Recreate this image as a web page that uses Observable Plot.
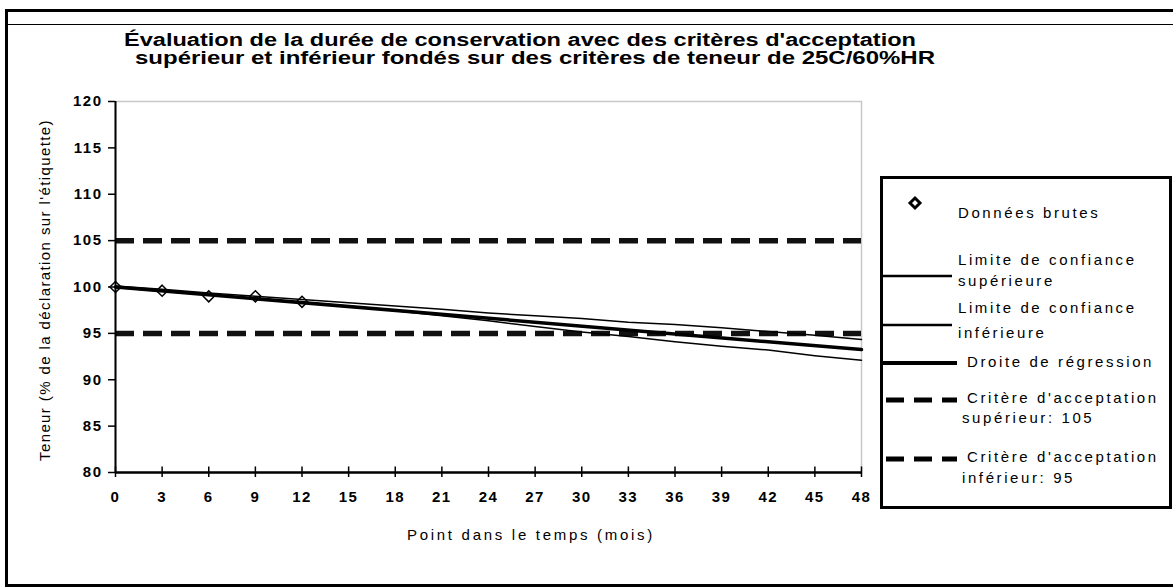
<!DOCTYPE html>
<html>
<head>
<meta charset="utf-8">
<script src="https://cdn.jsdelivr.net/npm/d3@7"></script>
<script src="https://cdn.jsdelivr.net/npm/@observablehq/plot@0.6"></script>
<style>
  body { margin: 0; background: #fff; }
  #wrap { position: relative; width: 1173px; height: 588px; overflow: hidden; background: #fff; font-family: "Liberation Sans", Arial, sans-serif; color: #000; }
  .abs { position: absolute; white-space: nowrap; }
</style>
</head>
<body>
<div id="wrap"></div>
<script>
// ---------- data ----------
const titleLines = [
  "Évaluation de la durée de conservation avec des critères d'acceptation",
  "supérieur et inférieur fondés sur des critères de teneur de 25C/60%HR"
];
const xLabel = "Point dans le temps (mois)";
const yLabel = "Teneur (% de la déclaration sur l'étiquette)";

const rawMonths = [0, 3, 6, 9, 12];
const rawValues = [100.0, 99.6, 99.0, 99.0, 98.4];

const bandMonths = [0, 3, 6, 9, 12, 15, 18, 21, 24, 27, 30, 33, 36, 39, 42, 45, 48];
const upperValues = [100.1, 99.75, 99.35, 99.0, 98.65, 98.3, 97.95, 97.6, 97.2, 96.9, 96.6, 96.2, 95.95, 95.6, 95.2, 94.8, 94.35];
const lowerValues = [99.95, 99.55, 99.15, 98.75, 98.35, 97.95, 97.45, 96.9, 96.35, 95.75, 95.15, 94.65, 94.1, 93.6, 93.2, 92.6, 92.1];

const regMonths = [0, 48];
const regValues = [100.0, 93.25];

const upperCriterion = 105;
const lowerCriterion = 95;

const xTicks = [0, 3, 6, 9, 12, 15, 18, 21, 24, 27, 30, 33, 36, 39, 42, 45, 48];
const yTicks = [80, 85, 90, 95, 100, 105, 110, 115, 120];

const legendLabels = [
  ["Données brutes"],
  ["Limite de confiance", "supérieure"],
  ["Limite de confiance", "inférieure"],
  ["Droite de régression"],
  ["Critère d'acceptation", "supérieur: 105"],
  ["Critère d'acceptation", "inférieur: 95"]
];

// ---------- build ----------
const wrap = document.getElementById("wrap");
function el(tag, css, text) {
  const e = document.createElement(tag);
  e.className = "abs";
  Object.assign(e.style, css);
  if (text != null) e.textContent = text;
  wrap.appendChild(e);
  return e;
}
function fitText(e, target) {
  e.style.letterSpacing = "0px";
  const w = e.getBoundingClientRect().width;
  const n = e.textContent.length;
  e.style.letterSpacing = ((target - w) / n) + "px";
}
function squeeze(e, target) {
  const w = e.getBoundingClientRect().width;
  e.style.transformOrigin = "0 50%";
  e.style.transform = "scaleX(" + (target / w) + ")";
}

// outer frame
el("div", {left: "5px", top: "9px", width: "1300px", height: "578px", border: "3px solid #000", borderRight: "none", boxSizing: "border-box"});
el("div", {left: "8px", top: "24px", width: "1300px", height: "1px", background: "#000"});

const pts = rawMonths.map((m, i) => ({m, v: rawValues[i]}));
const up = bandMonths.map((m, i) => ({m, v: upperValues[i]}));
const lo = bandMonths.map((m, i) => ({m, v: lowerValues[i]}));
const reg = regMonths.map((m, i) => ({m, v: regValues[i]}));

const chart = Plot.plot({
  width: 880,
  height: 588,
  marginLeft: 115,
  marginRight: 19,
  marginTop: 101,
  marginBottom: 116,
  x: {domain: [0, 48]},
  y: {domain: [80, 120]},
  style: {fontFamily: "'Liberation Sans', Arial, sans-serif", fontSize: "15px", fontWeight: "bold", color: "#000", background: "transparent", letterSpacing: "1.5px"},
  marks: [
    Plot.frame({stroke: "#c8c8c8", strokeWidth: 1.5}),
    Plot.ruleY([upperCriterion, lowerCriterion], {stroke: "#111", strokeWidth: 5.5, strokeDasharray: "19,9"}),
    Plot.dot(pts, {x: "m", y: "v", symbol: "diamond2", r: 5, fill: "#fff", stroke: "#000", strokeWidth: 1.5}),
    Plot.line(up, {x: "m", y: "v", stroke: "#000", strokeWidth: 1.5}),
    Plot.line(lo, {x: "m", y: "v", stroke: "#000", strokeWidth: 1.5}),
    Plot.line(reg, {x: "m", y: "v", stroke: "#000", strokeWidth: 3.5}),
    Plot.axisY({ticks: yTicks, tickSize: 7, tickPadding: 6, tickFormat: d => String(d), label: null, stroke: "#000", strokeWidth: 1.5}),
    Plot.axisX({ticks: xTicks, tickSize: 5, tickPadding: 14, tickFormat: d => String(d), label: null, stroke: "#000", strokeWidth: 1.5}),
    Plot.ruleX(xTicks, {x: d => d, y1: 80, y2: 80.6, stroke: "#000", strokeWidth: 1.5}),
    Plot.ruleX([0], {stroke: "#000", strokeWidth: 2}),
    Plot.ruleY([80], {stroke: "#000", strokeWidth: 2.5})
  ]
});
chart.style.position = "absolute";
chart.style.left = "0px";
chart.style.top = "0px";
wrap.appendChild(chart);

// title (bold, condensed)
const t1 = el("div", {left: "124px", top: "32px", fontSize: "18px", fontWeight: "bold", lineHeight: "17px"}, titleLines[0]);
const t2 = el("div", {left: "135px", top: "50px", fontSize: "18px", fontWeight: "bold", lineHeight: "17px"}, titleLines[1]);
squeeze(t1, 792);
squeeze(t2, 800);

// axis titles
const xt = el("div", {left: "407px", top: "526px", fontSize: "15px", lineHeight: "18px"}, xLabel);
fitText(xt, 248);
const yt = el("div", {left: "0px", top: "0px", fontSize: "15px", lineHeight: "18px"}, yLabel);
fitText(yt, 342);
{
  const r = yt.getBoundingClientRect();
  const cx = 45, cy = 290;
  yt.style.left = (cx - r.width / 2) + "px";
  yt.style.top = (cy - r.height / 2) + "px";
  yt.style.transform = "rotate(-90deg)";
}

// legend
el("div", {left: "880px", top: "176px", width: "292px", height: "333px", border: "3px solid #000", boxSizing: "border-box", background: "#fff"});
const ns = "http://www.w3.org/2000/svg";
const sw = document.createElementNS(ns, "svg");
sw.setAttribute("width", "90"); sw.setAttribute("height", "300");
Object.assign(sw.style, {position: "absolute", left: "880px", top: "180px"});
wrap.appendChild(sw);
function svgEl(tag, attrs) {
  const e = document.createElementNS(ns, tag);
  for (const k in attrs) e.setAttribute(k, attrs[k]);
  sw.appendChild(e);
  return e;
}
svgEl("path", {d: "M35,18 L40,23 L35,28 L30,23 Z", fill: "#fff", stroke: "#000", "stroke-width": 3});
svgEl("line", {x1: 3, x2: 72, y1: 96, y2: 96, stroke: "#000", "stroke-width": 2.5});
svgEl("line", {x1: 3, x2: 72, y1: 145, y2: 145, stroke: "#000", "stroke-width": 2.5});
svgEl("line", {x1: 3, x2: 77, y1: 183, y2: 183, stroke: "#000", "stroke-width": 4});
svgEl("line", {x1: 6, x2: 77, y1: 220, y2: 220, stroke: "#000", "stroke-width": 5, "stroke-dasharray": "18,10"});
svgEl("line", {x1: 6, x2: 77, y1: 279, y2: 279, stroke: "#000", "stroke-width": 5, "stroke-dasharray": "18,10"});

const legendPos = [
  [[958, 213]],
  [[958, 260], [958, 281]],
  [[958, 308], [958, 333]],
  [[967, 362]],
  [[967, 398], [962, 418]],
  [[967, 457], [962, 478]]
];
legendLabels.forEach((lines, i) => {
  lines.forEach((txt, j) => {
    const [x, y] = legendPos[i][j];
    el("div", {left: x + "px", top: (y - 9) + "px", fontSize: "15px", lineHeight: "18px", letterSpacing: "2.6px"}, txt);
  });
});
</script>
</body>
</html>
